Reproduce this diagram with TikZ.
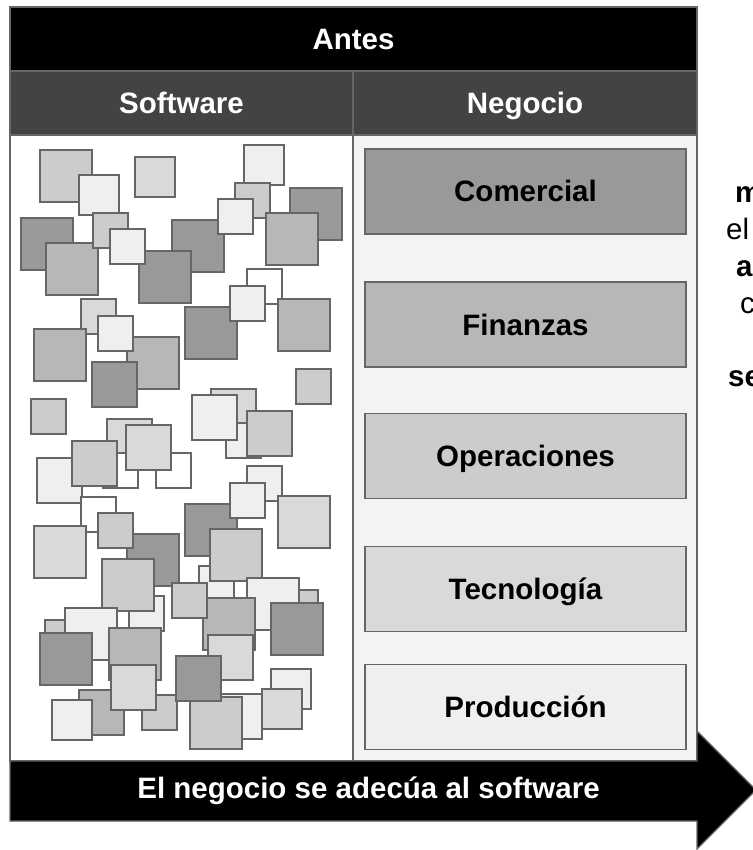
\documentclass[tikz,border=0pt]{standalone}
\usepackage{fontspec}
\setmainfont{Liberation Sans}
\definecolor{tone1}{HTML}{999999}
\definecolor{tone2}{HTML}{B7B7B7}
\definecolor{tone3}{HTML}{CCCCCC}
\definecolor{tone4}{HTML}{D9D9D9}
\definecolor{tone5}{HTML}{EFEFEF}
\definecolor{edge}{HTML}{666666}
\definecolor{darkhead}{HTML}{434343}
\definecolor{bizbg}{HTML}{F3F3F3}
\begin{document}
\begin{tikzpicture}[x=1pt,y=-1pt]
  \tikzstyle{head}=[draw=edge, line width=1.2pt, fill=black, text=white, minimum height=64pt, text height=21pt, text depth=0pt, font=\fontsize{29.5}{35}\selectfont\bfseries]
  \tikzstyle{subhead}=[head, fill=darkhead, minimum width=343pt]
  \tikzstyle{panel}=[draw=edge, line width=1.2pt, minimum width=343pt, minimum height=626pt]
  \tikzstyle{unit}=[draw=edge, line width=1.2pt, minimum width=321pt, minimum height=85pt, text height=21pt, text depth=0pt, font=\fontsize{29.5}{35}\selectfont\bfseries]
  \tikzstyle{sq}=[draw=edge, line width=1.2pt]
  \tikzstyle{side}=[anchor=base west, inner sep=0pt, font=\fontsize{29.5}{35}\selectfont]
  \useasboundingbox (0,0) rectangle (752,850);

  \node[panel, fill=white] (swpanel) at (181.5,448) {};
  \node[panel, fill=bizbg, minimum width=344pt] (bizpanel) at (525,448) {};

  % software: squares
  \draw[sq, fill=tone3] (40,150) rectangle +(52,52);
  \draw[sq, fill=tone5] (79,175) rectangle +(40,40);
  \draw[sq, fill=tone4] (135,157) rectangle +(40,40);
  \draw[sq, fill=tone5] (244,145) rectangle +(40,40);
  \draw[sq, fill=tone3] (235,183) rectangle +(35,35);
  \draw[sq, fill=tone1] (290,188) rectangle +(52,52);
  \draw[sq, fill=tone1] (21,218) rectangle +(52,52);
  \draw[sq, fill=tone2] (46,243) rectangle +(52,52);
  \draw[sq, fill=tone1] (172,220) rectangle +(52,52);
  \draw[sq, fill=tone1] (139,251) rectangle +(52,52);
  \draw[sq, fill=tone3] (93,213) rectangle +(35,35);
  \draw[sq, fill=tone5] (110,229) rectangle +(35,35);
  \draw[sq, fill=tone5] (218,199) rectangle +(35,35);
  \draw[sq, fill=tone2] (266,213) rectangle +(52,52);
  \draw[sq, fill=white] (247,269) rectangle +(35,35);
  \draw[sq, fill=tone1] (185,307) rectangle +(52,52);
  \draw[sq, fill=tone5] (230,286) rectangle +(35,35);
  \draw[sq, fill=tone2] (278,299) rectangle +(52,52);
  \draw[sq, fill=tone4] (81,299) rectangle +(35,35);
  \draw[sq, fill=tone2] (34,329) rectangle +(52,52);
  \draw[sq, fill=tone2] (127,337) rectangle +(52,52);
  \draw[sq, fill=tone5] (98,316) rectangle +(35,35);
  \draw[sq, fill=tone1] (92,362) rectangle +(45,45);
  \draw[sq, fill=tone3] (296,369) rectangle +(35,35);
  \draw[sq, fill=tone3] (31,399) rectangle +(35,35);
  \draw[sq, fill=tone4] (211,389) rectangle +(45,45);
  \draw[sq, fill=tone5] (226,423) rectangle +(35,35);
  \draw[sq, fill=tone5] (192,395) rectangle +(45,45);
  \draw[sq, fill=tone3] (247,411) rectangle +(45,45);
  \draw[sq, fill=tone4] (107,419) rectangle +(45,45);
  \draw[sq, fill=white] (103,453) rectangle +(35,35);
  \draw[sq, fill=white] (156,453) rectangle +(35,35);
  \draw[sq, fill=tone4] (126,425) rectangle +(45,45);
  \draw[sq, fill=tone5] (37,458) rectangle +(45,45);
  \draw[sq, fill=tone3] (72,441) rectangle +(45,45);
  \draw[sq, fill=white] (81,497) rectangle +(35,35);
  \draw[sq, fill=tone4] (34,526) rectangle +(52,52);
  \draw[sq, fill=tone1] (127,534) rectangle +(52,52);
  \draw[sq, fill=tone3] (98,513) rectangle +(35,35);
  \draw[sq, fill=tone5] (129,596) rectangle +(35,35);
  \draw[sq, fill=tone3] (102,559) rectangle +(52,52);
  \draw[sq, fill=tone1] (185,504) rectangle +(52,52);
  \draw[sq, fill=tone5] (247,466) rectangle +(35,35);
  \draw[sq, fill=tone5] (230,483) rectangle +(35,35);
  \draw[sq, fill=tone4] (278,496) rectangle +(52,52);
  \draw[sq, fill=tone5] (199,566) rectangle +(35,35);
  \draw[sq, fill=tone3] (210,529) rectangle +(52,52);
  \draw[sq, fill=tone3] (283,590) rectangle +(35,35);
  \draw[sq, fill=tone5] (247,578) rectangle +(52,52);
  \draw[sq, fill=tone2] (203,598) rectangle +(52,52);
  \draw[sq, fill=tone3] (172,583) rectangle +(35,35);
  \draw[sq, fill=tone1] (271,603) rectangle +(52,52);
  \draw[sq, fill=tone3] (45,620) rectangle +(35,35);
  \draw[sq, fill=tone5] (65,608) rectangle +(52,52);
  \draw[sq, fill=tone1] (40,633) rectangle +(52,52);
  \draw[sq, fill=tone2] (109,628) rectangle +(52,52);
  \draw[sq, fill=tone4] (208,635) rectangle +(45,45);
  \draw[sq, fill=tone5] (271,669) rectangle +(40,40);
  \draw[sq, fill=tone4] (262,689) rectangle +(40,40);
  \draw[sq, fill=tone2] (79,690) rectangle +(45,45);
  \draw[sq, fill=tone5] (52,700) rectangle +(40,40);
  \draw[sq, fill=tone3] (142,695) rectangle +(35,35);
  \draw[sq, fill=tone4] (111,665) rectangle +(45,45);
  \draw[sq, fill=tone5] (217,694) rectangle +(45,45);
  \draw[sq, fill=tone3] (190,697) rectangle +(52,52);
  \draw[sq, fill=tone1] (176,656) rectangle +(45,45);

  \node[head, minimum width=687pt] (antes) at (353.5,39) {Antes};
  \node[subhead] (software) at (181.5,103) {Software};
  \node[subhead, minimum width=344pt] (negocio) at (525,103) {Negocio};

  % negocio: areas
  \node[unit, fill=tone1] (comercial) at (525.5,191.5) {Comercial};
  \node[unit, fill=tone2] (finanzas) at (525.5,324.5) {Finanzas};
  \node[unit, fill=tone3] (operaciones) at (525.5,456) {Operaciones};
  \node[unit, fill=tone4] (tecnologia) at (525.5,589) {Tecnología};
  \node[unit, fill=tone5] (produccion) at (525.5,707) {Producción};

  \draw[draw=edge, line width=1.2pt, fill=black] (10,761) -- (697,761) -- (697,731) -- (756,790) -- (697,849) -- (697,821) -- (10,821) -- cycle;
  \node[text=white, font=\fontsize{29.5}{35}\selectfont\bfseries] (adecua) at (368.5,791) {El negocio se adecúa al software};

  \node[side, font=\fontsize{29.5}{35}\selectfont\bfseries] (m) at (735,203) {m};
  \node[side] (el) at (726,240) {el};
  \node[side, font=\fontsize{29.5}{35}\selectfont\bfseries] (a) at (736,276) {a};
  \node[side] (c) at (740,313) {c};
  \node[side, font=\fontsize{29.5}{35}\selectfont\bfseries] (se) at (728,386) {se};
\end{tikzpicture}
\end{document}
